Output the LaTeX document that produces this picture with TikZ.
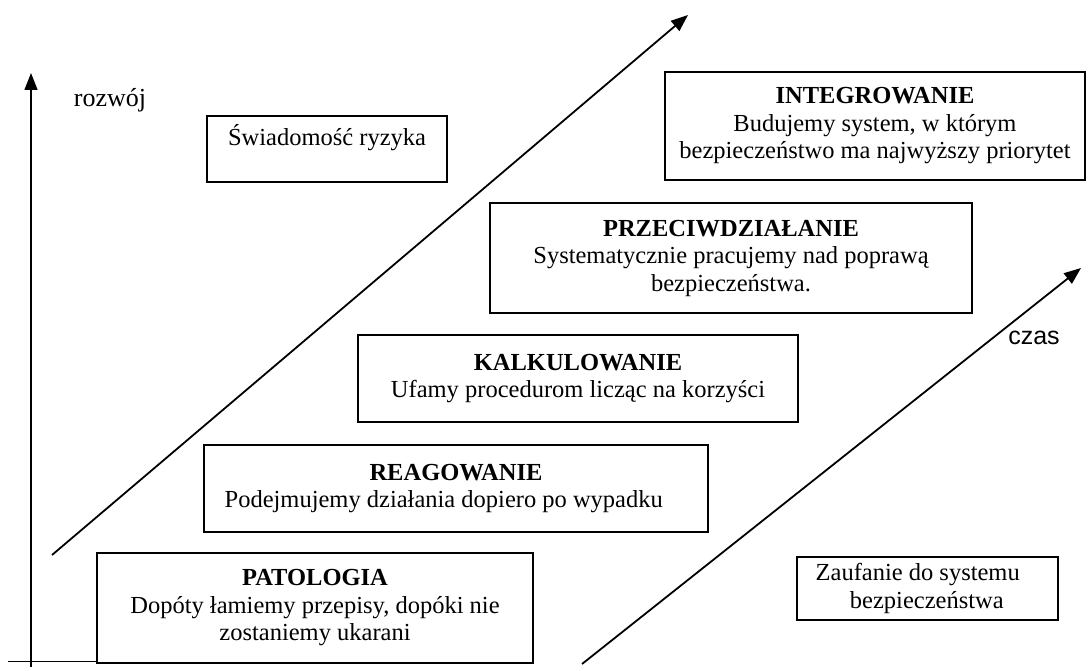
\documentclass[tikz,border=0pt]{standalone}
\usepackage{fontspec}
\setmainfont{Liberation Serif}
\newfontfamily\axisfont{Liberation Sans}
\usetikzlibrary{arrows.meta,positioning}
\newcommand\stagefont{\fontsize{24.5}{27.5}\selectfont}
\tikzset{
  >={Triangle[length=17pt,width=13pt]},
  stage/.style ={draw,line width=1.6pt,align=center,inner sep=0pt,font=\stagefont},
  ar/.style    ={->,line width=1.8pt},
  axis/.style  ={->,line width=1.4pt},
  lbl/.style   ={font=\stagefont,inner sep=0pt},
}
\begin{document}
\begin{tikzpicture}[x=1pt,y=-1pt]
\useasboundingbox (0,0) rectangle (1091,671);
% axes
\coordinate (a0) at (31,667);
\coordinate (a1) at (31,73);
\coordinate (h0) at (8,661);
\coordinate (h1) at (97,661);
\draw[axis] (a0) -- (a1);
\draw[line width=1pt] (h0) -- (h1);
\node[lbl,font=\fontsize{26}{28}\selectfont] (rozwoj) at (110,100) {rozwój};
% stages
\node[stage,minimum width=420pt,minimum height=108pt] (integ) at (875,126)
  {\textbf{INTEGROWANIE}\\ Budujemy system, w którym\\ bezpieczeństwo ma najwyższy priorytet};
\node[stage,minimum width=482pt,minimum height=110pt] (przec) at (731,258)
  {\textbf{PRZECIWDZIAŁANIE}\\ Systematycznie pracujemy nad poprawą\\ bezpieczeństwa.};
\node[stage,minimum width=440pt,minimum height=87pt] (kalk) at (578,378.5)
  {\textbf{KALKULOWANIE}\\ Ufamy procedurom licząc na korzyści};
\node[stage,minimum width=504pt,minimum height=87pt] (reag) at (456,488.5)
  {\textbf{REAGOWANIE}\\ Podejmujemy działania dopiero po wypadku\hspace*{1em}};
\node[stage,minimum width=436pt,minimum height=110pt] (pato) at (315,608)
  {\textbf{PATOLOGIA}\\ Dopóty łamiemy przepisy, dopóki nie\\ zostaniemy ukarani};
% side boxes
\node[stage,minimum width=240pt,minimum height=66pt] (swiad) at (327,149)
  {Świadomość ryzyka\\ \mbox{}};
\node[stage,align=left,minimum width=261pt,minimum height=63pt] (zauf) at (927.5,588.5)
  {Zaufanie do systemu\hspace*{0.8em}\\ \hspace*{1.4em}bezpieczeństwa};
% trend arrows
\coordinate (r0) at (52,555);
\coordinate (r1) at (688,15);
\coordinate (t0) at (582,664);
\coordinate (t1) at (1081,268);
\draw[ar] (r0) -- (r1);
\draw[ar] (t0) -- (t1);
\node[lbl,font=\axisfont\fontsize{25}{28}\selectfont] (czas) at (1034,338) {czas};
\end{tikzpicture}
\end{document}
